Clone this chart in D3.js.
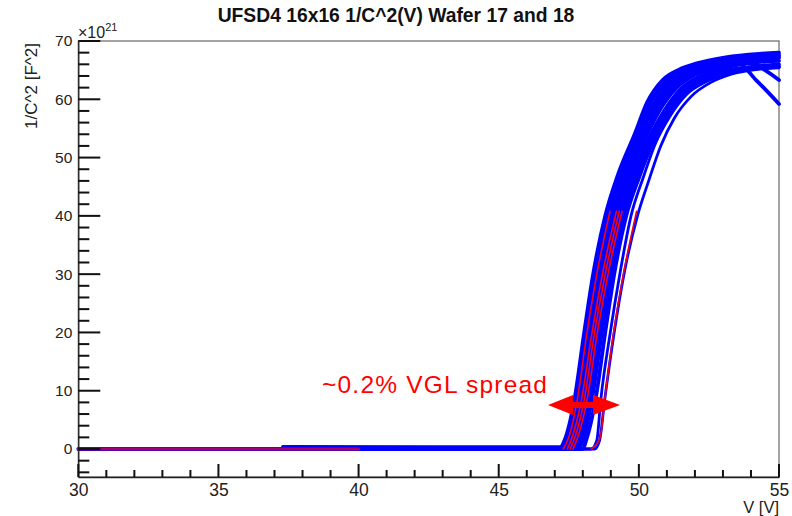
<!DOCTYPE html>
<html>
<head>
<meta charset="utf-8">
<script src="https://cdn.jsdelivr.net/npm/d3@7"></script>
<style>
  body { margin: 0; background: #fff; }
  svg { display: block; font-family: "Liberation Sans", Arial, sans-serif; }
</style>
</head>
<body>
<svg id="chart" width="792" height="516"></svg>
<script>
// x axis: bias voltage [V], y axis: 1/C^2 in units of 1e21 F^-2
const xTicks = [30, 35, 40, 45, 50, 55];
const xMinorTicks = [31, 32, 33, 34, 36, 37, 38, 39, 41, 42, 43, 44, 46, 47, 48, 49, 51, 52, 53, 54];
const yTicks = [0, 10, 20, 30, 40, 50, 60, 70];
const yMinorTicks = [-4, -2, 2, 4, 6, 8, 12, 14, 16, 18, 22, 24, 26, 28, 32, 34, 36, 38, 42, 44, 46, 48, 52, 54, 56, 58, 62, 64, 66, 68];

// blue curves as [V, 1/C^2] pairs
const blueCurves = [
  [[30,0],[47.15,0],[47.35,1.5],[47.7,8.4],[48.05,20],[48.37,30],[48.8,40],[49.25,47],[49.85,54],[50.3,59.5],[50.85,63.3],[51.4,65],[52.1,66.2],[53.1,67.2],[54.3,67.8],[55,68]],
  [[37.3,0.35],[47.25,0.3],[47.45,1.8],[47.8,8.5],[48.15,20],[48.47,30],[48.9,40],[49.35,47],[49.95,54],[50.4,59.3],[50.95,63],[51.55,65],[52.3,66.1],[53.3,67],[54.4,67.5],[55,67.6]],
  [[40,0],[47.3,0],[47.5,1.5],[47.85,8.4],[48.22,20],[48.55,30],[48.98,40],[49.45,47],[50.05,54],[50.5,59],[51.05,62.8],[51.7,64.9],[52.5,66],[53.5,66.8],[54.5,67.3],[55,67.4]],
  [[40,0],[47.4,0],[47.6,1.5],[47.95,8.4],[48.3,20],[48.63,30],[49.07,40],[49.55,47],[50.15,54],[50.6,58.8],[51.15,62.6],[51.8,64.7],[52.6,65.8],[53.6,66.6],[54.6,67],[55,67.1]],
  [[40,0],[47.5,0],[47.7,1.5],[48.05,8.4],[48.4,20],[48.72,30],[49.15,40],[49.63,47],[50.22,54],[50.7,58.6],[51.25,62.3],[51.9,64.5],[52.7,65.7],[53.5,66.3],[54.2,63.2],[55,59.2]],
  [[40,0],[47.6,0],[47.8,1.5],[48.15,8.4],[48.5,20],[48.82,30],[49.25,40],[49.72,47],[50.3,54],[50.78,58.4],[51.35,62],[52.0,64.2],[52.8,65.4],[53.8,66.2],[54.6,66.5],[55,66.6]],
  [[40,0],[47.7,0],[47.9,1.5],[48.22,8.4],[48.58,20],[48.92,30],[49.35,40],[49.82,47],[50.38,53.5],[50.9,58],[51.5,61.8],[52.2,64],[53,65.3],[54.0,66.2],[54.5,65],[55,63.3]],
  [[40,0],[47.85,0],[48.0,1.5],[48.32,8.4],[48.68,20],[49.02,30],[49.45,40],[49.92,47],[50.45,53],[51.0,57.8],[51.6,61.5],[52.35,63.8],[53.2,65],[54.1,65.6],[55,66]],
  [[40,0],[48.0,0],[48.12,1.5],[48.45,8.4],[48.8,20],[49.12,30],[49.55,40],[50.0,46.5],[50.5,52.5],[51.05,57.5],[51.7,61.3],[52.5,63.6],[53.3,64.7],[54.2,65.3],[55,65.6]]
];

// two curves that sit apart on the right of the bundle
const blueLateCurves = [
  [[40,0],[48.3,0],[48.5,1.5],[48.64,8.4],[48.98,20],[49.32,30],[49.72,40],[50.15,46.5],[50.6,52.5],[51.1,57],[51.7,60.8],[52.4,63],[53.2,64.4],[54.2,65.2],[55,65.5]],
  [[40,0],[48.42,0],[48.6,1.5],[48.78,8.4],[49.12,20],[49.47,30],[49.95,40],[50.35,46],[50.78,52],[51.27,56.8],[51.87,60.5],[52.57,62.9],[53.3,64.3],[54.2,65.1],[55,65.4]]
];

// red curves: flat part 30-40 V and the rising edge up to ~41
const redFlat = [[30,0],[40,0]];
const redCurves = [
  [[47.3,0],[47.5,2],[47.8,8.4],[48.15,20],[48.5,30],[48.97,40.8]],
  [[47.45,0],[47.62,2],[47.95,8.4],[48.33,20],[48.7,30],[49.2,40.8]],
  [[47.55,0],[47.72,2],[48.05,8.4],[48.42,20],[48.8,30],[49.3,40.8]],
  [[47.65,0],[47.82,2],[48.15,8.4],[48.52,20],[48.9,30],[49.4,40.8]],
  [[48.3,0],[48.62,2],[48.78,8.4],[49.1,20],[49.45,30],[49.92,40.8]]
];

// annotation arrow ends (data units)
const arrowV = [46.76, 49.33];
const arrowY = 7.55;

const svg = d3.select("#chart");

const x = d3.scaleLinear().domain([30, 55]).range([78.3, 779]);
const y = d3.scaleLinear().domain([-4.8, 70]).range([477, 41]);

const line = d3
  .line()
  .x(d => x(d[0]))
  .y(d => y(d[1]))
  .curve(d3.curveMonotoneX);

// title
svg
  .append("text")
  .attr("x", 396)
  .attr("y", 22)
  .attr("text-anchor", "middle")
  .attr("font-weight", "bold")
  .attr("font-size", 19.3)
  .attr("fill", "#111")
  .text("UFSD4 16x16 1/C^2(V) Wafer 17 and 18");

// frame
svg
  .append("rect")
  .attr("x", x(30))
  .attr("y", y(70))
  .attr("width", x(55) - x(30))
  .attr("height", y(-4.8) - y(70))
  .attr("fill", "none")
  .attr("stroke", "#666")
  .attr("stroke-width", 1.2);

// curves
const plot = svg.append("g").attr("fill", "none").attr("stroke-linejoin", "round").attr("stroke-linecap", "round");

plot
  .append("g")
  .attr("stroke", "#0000ff")
  .attr("stroke-width", 3.8)
  .selectAll("path")
  .data(blueCurves)
  .join("path")
  .attr("d", line);

plot
  .append("g")
  .attr("stroke", "#0000ff")
  .attr("stroke-width", 2.8)
  .selectAll("path")
  .data(blueLateCurves)
  .join("path")
  .attr("d", line);

plot
  .append("path")
  .attr("stroke", "#e8002a")
  .attr("stroke-opacity", 0.7)
  .attr("stroke-width", 3)
  .attr("d", line(redFlat));

plot
  .append("g")
  .attr("stroke", "#f0001e")
  .attr("stroke-width", 1.6)
  .selectAll("path")
  .data(redCurves)
  .join("path")
  .attr("d", line);

// axes: labels from d3 axes, tick marks drawn inward like ROOT
const xAxis = svg
  .append("g")
  .attr("transform", `translate(0,${y(-4.8)})`)
  .call(d3.axisBottom(x).tickValues(xTicks).tickFormat(d3.format("d")).tickSize(0).tickPadding(7));

const yAxis = svg
  .append("g")
  .attr("transform", `translate(${x(30)},0)`)
  .call(d3.axisLeft(y).tickValues(yTicks).tickFormat(d3.format("d")).tickSize(0).tickPadding(6));

svg.selectAll(".domain").attr("stroke", "#222").attr("stroke-width", 1.3);
xAxis.selectAll("text").attr("font-size", 17.5).attr("fill", "#222").attr("font-family", "Liberation Sans, Arial, sans-serif");
yAxis.selectAll("text").attr("font-size", 15.5).attr("fill", "#222").attr("font-family", "Liberation Sans, Arial, sans-serif");

// tick marks, pointing into the frame
const x0 = x(30);
const yb = y(-4.8);

const tickG = svg.append("g").attr("fill", "#111");

tickG
  .selectAll("rect.xt")
  .data(xTicks.map(v => [v, 13]).concat(xMinorTicks.map(v => [v, 7])))
  .join("rect")
  .attr("class", "xt")
  .attr("x", d => x(d[0]) - 1)
  .attr("y", d => yb - d[1])
  .attr("width", 2)
  .attr("height", d => d[1]);

tickG
  .selectAll("rect.yt")
  .data(yTicks.map(v => [v, 22]).concat(yMinorTicks.map(v => [v, 11])))
  .join("rect")
  .attr("class", "yt")
  .attr("x", x0)
  .attr("y", d => y(d[0]) - 1)
  .attr("width", d => d[1])
  .attr("height", 2);

// exponent
const expo = svg
  .append("text")
  .attr("x", 78)
  .attr("y", 38)
  .attr("font-size", 16)
  .attr("fill", "#222");
expo.append("tspan").text("\u00d710");
expo.append("tspan").attr("dy", -7).attr("font-size", 11).text("21");

// axis titles
svg
  .append("text")
  .attr("transform", "translate(37,43) rotate(-90)")
  .attr("text-anchor", "end")
  .attr("font-size", 17)
  .attr("fill", "#222")
  .text("1/C^2 [F^2]");

svg
  .append("text")
  .attr("x", 779)
  .attr("y", 513)
  .attr("text-anchor", "end")
  .attr("font-size", 16.5)
  .attr("fill", "#222")
  .text("V [V]");

// annotation
svg
  .append("text")
  .attr("x", 322)
  .attr("y", 393)
  .attr("font-size", 24.5)
  .attr("textLength", 225)
  .attr("fill", "#ff0000")
  .text("~0.2% VGL spread");

const ax0 = x(arrowV[0]);
const ax1 = x(arrowV[1]);
const ay = y(arrowY);
svg
  .append("path")
  .attr("fill", "#ff0000")
  .attr("d", `M${ax0},${ay} L${ax0 + 25},${ay - 10} L${ax0 + 25},${ay - 3} L${ax1 - 27},${ay - 3} L${ax1 - 27},${ay - 10} L${ax1},${ay} L${ax1 - 27},${ay + 10} L${ax1 - 27},${ay + 3} L${ax0 + 25},${ay + 3} L${ax0 + 25},${ay + 10} Z`);
</script>
</body>
</html>
